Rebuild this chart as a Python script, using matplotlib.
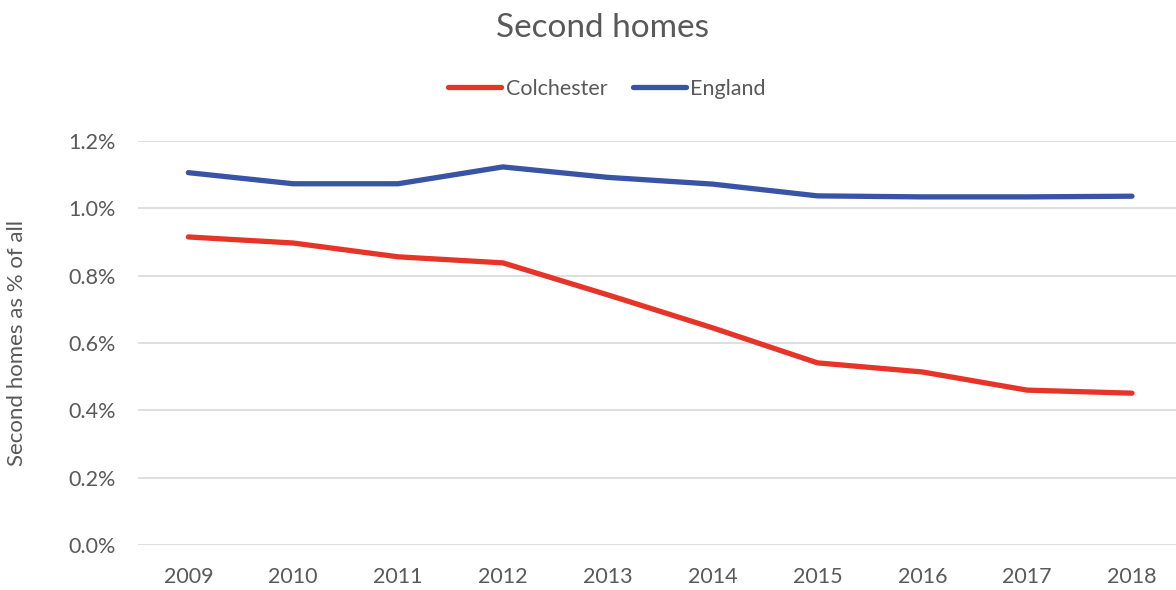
import matplotlib.pyplot as plt
import matplotlib.ticker as mtick

# ------------------- Data (second homes as % of all dwellings) -------------------
years = ['2009', '2010', '2011', '2012', '2013', '2014', '2015', '2016', '2017', '2018']
colchester = [0.915, 0.897, 0.856, 0.838, 0.743, 0.645, 0.541, 0.514, 0.460, 0.451]
england = [1.106, 1.073, 1.073, 1.123, 1.092, 1.072, 1.037, 1.034, 1.034, 1.036]

grey = '#595959'
plt.rcParams['font.family'] = ['Lato', 'DejaVu Sans']

# ------ Set up figure layout --------
fig = plt.figure(figsize=(11.76, 5.9), dpi=100)
ax1 = fig.add_axes([138 / 1176, 45 / 590, 1 - 138 / 1176, (545 - 141) / 590])
x = range(len(years))

ax1.plot(x, colchester, c='#E63528', lw=3.8, solid_capstyle='round', label='Colchester')
ax1.plot(x, england, c='#3A54A5', lw=3.8, solid_capstyle='round', label='England')

ax1.set_xlim(-0.48, 9.42)
ax1.set_ylim(0, 1.2)
ax1.set_yticks([0, 0.2, 0.4, 0.6, 0.8, 1.0, 1.2])
ax1.yaxis.set_major_formatter(mtick.FuncFormatter(lambda v, p: '%.1f%%' % v))
ax1.set_xticks(list(x))
ax1.set_xticklabels(years)

for axis in ['top', 'bottom', 'left', 'right']:
    ax1.spines[axis].set_visible(False)
ax1.grid(axis='y', color='#d9d9d9', lw=1.2)
ax1.set_axisbelow(True)
ax1.tick_params(axis='both', length=0, labelsize=15.5, colors=grey)
ax1.tick_params(axis='x', pad=16)
ax1.tick_params(axis='y', pad=16)

ax1.set_ylabel('Second homes as % of all', fontsize=16, color=grey, labelpad=30)

fig.suptitle('Second homes', fontsize=24, color=grey, x=603 / 1176, y=0.978)
ax1.legend(loc='center', bbox_to_anchor=(607 / 1176, 1 - 89 / 590), bbox_transform=fig.transFigure,
           ncol=2, frameon=False, fontsize=15.5, labelcolor=grey, handlelength=2.45,
           handletextpad=0.2, columnspacing=1.2)

plt.savefig('out.png', dpi=100)
